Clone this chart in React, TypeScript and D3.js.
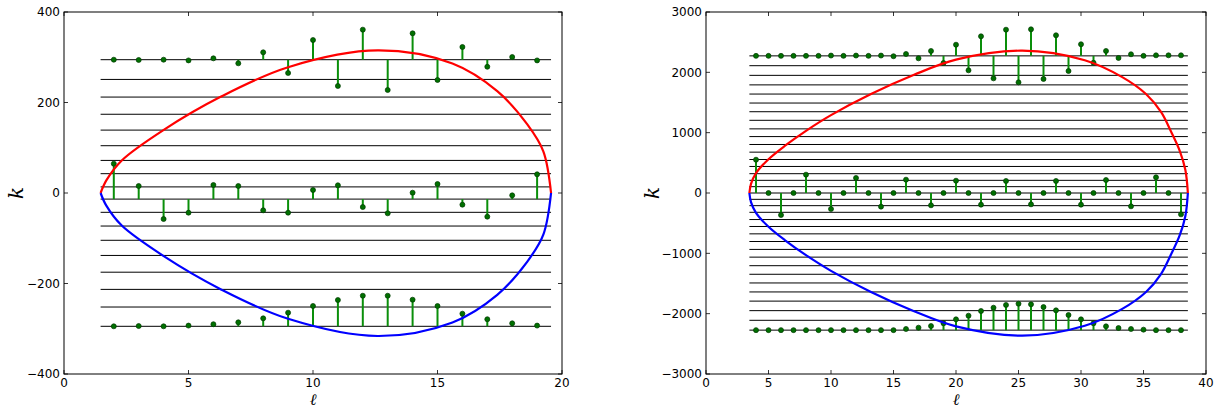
import { useEffect, useRef } from 'react';
import * as d3 from 'd3';

// ---- left panel data ----
const L_ELL = [2, 3, 4, 5, 6, 7, 8, 9, 10, 11, 12, 13, 14, 15, 16, 17, 18, 19];
const L_LEVELS = [294.6, 251, 212, 174, 139, 104.5, 72, 42.7, 13.5, -13.5, -42.7, -73, -104.5, -138, -175, -213, -252, -294.6];
const L_BASES = [294.6, -13.5, -294.6];
const L_TOP = [294.6, 294, 294.6, 293, 297.6, 286.6, 310.9, 265.2, 338, 236.5, 361, 227.6, 352.9, 249.7, 322.7, 279, 300.5, 293];
const L_MID = [64.8, 15.5, -57.5, -43.5, 17.7, 15.5, -38.3, -43.5, 6.6, 17, -31, -44.9, 0.7, 19.9, -25.8, -52.3, -5.2, 41.3];
const L_BOT = [-294.6, -294, -294.6, -293, -290, -285.8, -277, -264.5, -249.7, -236.5, -227, -227, -235.8, -249.7, -266.7, -279, -288, -293];
const L_CURVE_ELL = [1.47, 1.7, 2.32, 3.99, 6.27, 9.0, 12.6, 15.6, 17.4, 18.6, 19.25, 19.56];
const L_CURVE_UP = [0, 28, 72, 139, 212, 278, 315, 286, 225, 152, 92, 0];
const L_CURVE_DOWN = [0, -28, -72, -139, -212, -278, -316, -286, -225, -152, -92, 0];
const L_X_TICKS = [0, 5, 10, 15, 20];
const L_Y_TICKS = [-400, -200, 0, 200, 400];

// ---- right panel data ----
const R_ELL = [4, 5, 6, 7, 8, 9, 10, 11, 12, 13, 14, 15, 16, 17, 18, 19, 20, 21, 22, 23, 24, 25, 26, 27, 28, 29, 30, 31, 32, 33, 34, 35, 36, 37, 38];
const R_LEVELS = [2273, 2110, 1950, 1792, 1640, 1491, 1347, 1205, 1063, 935, 804, 677, 555, 440, 320, 210, 105, 0,
  -105, -210, -320, -440, -555, -677, -804, -935, -1063, -1205, -1347, -1491, -1640, -1792, -1950, -2110, -2273];
const R_BASES = [2273, 0, -2273];
const R_TOP = [2273, 2273, 2273, 2273, 2273, 2273, 2278, 2273, 2278, 2273, 2278, 2267, 2304, 2232, 2354, 2155, 2458, 2033,
  2597, 1900, 2707, 1834, 2713, 1890, 2614, 2022, 2465, 2160, 2354, 2238, 2299, 2273, 2282, 2282, 2282];
const R_MID = [552, 0, -365, 0, 304, 0, -265, 0, 249, 0, -226, 0, 221, 0, -204, 0, 204, 0, -193, 0, 199, 0, -188, 0,
  199, 0, -193, 0, 215, 0, -221, 0, 260, 0, -354];
const R_BOT = [-2273, -2273, -2273, -2273, -2273, -2273, -2273, -2273, -2273, -2273, -2273, -2273, -2254, -2232, -2205,
  -2160, -2094, -2033, -1956, -1901, -1856, -1835, -1845, -1890, -1945, -2022, -2094, -2160, -2210, -2238, -2254, -2265,
  -2273, -2273, -2273];
const R_CURVE_ELL = [3.47, 3.6, 4.0, 5.0, 6.3, 8.0, 10.0, 13.2, 16.6, 20.0, 25.3, 30.3, 33.3, 35.2, 36.4, 37.2, 37.9, 38.35, 38.55];
const R_CURVE_UP = [0, 150, 330, 560, 780, 1030, 1290, 1640, 1955, 2210, 2359, 2200, 1920, 1640, 1343, 1020, 700, 380, 0];
const R_CURVE_DOWN = [0, -150, -330, -560, -780, -1030, -1290, -1640, -1955, -2210, -2365, -2200, -1920, -1640, -1343, -1020, -700, -380, 0];
const R_X_TICKS = [0, 5, 10, 15, 20, 25, 30, 35, 40];
const R_Y_TICKS = [-3000, -2000, -1000, 0, 1000, 2000, 3000];

const W = 1218, H = 409;
const TOP = 12, BOTTOM = 374;

const fmt = (v: number) => (v < 0 ? '\u2212' + Math.abs(v) : String(v));

type Panel = {
  x0: number; x1: number; yLabelX: number;
  xDomain: [number, number]; yDomain: [number, number];
  xTicks: number[]; yTicks: number[];
  levels: number[]; ell: number[]; bases: number[]; rows: number[][];
  curveEll: number[]; curveUp: number[]; curveDown: number[];
};

const PANELS: Panel[] = [
  {
    x0: 64, x1: 562, yLabelX: 16,
    xDomain: [0, 20], yDomain: [-400, 400], xTicks: L_X_TICKS, yTicks: L_Y_TICKS,
    levels: L_LEVELS, ell: L_ELL, bases: L_BASES, rows: [L_TOP, L_MID, L_BOT],
    curveEll: L_CURVE_ELL, curveUp: L_CURVE_UP, curveDown: L_CURVE_DOWN,
  },
  {
    x0: 706, x1: 1206, yLabelX: 652,
    xDomain: [0, 40], yDomain: [-3000, 3000], xTicks: R_X_TICKS, yTicks: R_Y_TICKS,
    levels: R_LEVELS, ell: R_ELL, bases: R_BASES, rows: [R_TOP, R_MID, R_BOT],
    curveEll: R_CURVE_ELL, curveUp: R_CURVE_UP, curveDown: R_CURVE_DOWN,
  },
];

function drawPanel(svg: d3.Selection<SVGSVGElement, unknown, null, undefined>, p: Panel) {
  const x = d3.scaleLinear().domain(p.xDomain).range([p.x0, p.x1]);
  const y = d3.scaleLinear().domain(p.yDomain).range([BOTTOM, TOP]);
  const g = svg.append('g');

  // horizontal level lines span the boundary curve
  const lx0 = d3.min(p.curveEll) as number;
  const lx1 = d3.max(p.curveEll) as number;
  g.selectAll(null).data(p.levels).enter().append('line')
    .attr('x1', x(lx0)).attr('x2', x(lx1))
    .attr('y1', d => y(d)).attr('y2', d => y(d))
    .attr('stroke', '#000').attr('stroke-width', 1);

  // stems
  p.rows.forEach((vals, i) => {
    const base = p.bases[i];
    g.selectAll(null).data(vals).enter().append('line')
      .attr('x1', (_, j) => x(p.ell[j])).attr('x2', (_, j) => x(p.ell[j]))
      .attr('y1', y(base)).attr('y2', d => y(d))
      .attr('stroke', '#0a8f0a').attr('stroke-width', 2);
  });
  p.rows.forEach(vals => {
    g.selectAll(null).data(vals).enter().append('circle')
      .attr('cx', (_, j) => x(p.ell[j])).attr('cy', d => y(d))
      .attr('r', 2.5)
      .attr('fill', '#007000').attr('stroke', '#003a00').attr('stroke-width', 0.7);
  });

  // boundary curve
  const line = d3.line<number>()
    .x((_, j) => x(p.curveEll[j]))
    .y(d => y(d))
    .curve(d3.curveCatmullRom.alpha(0.5));
  g.append('path').attr('d', line(p.curveUp))
    .attr('fill', 'none').attr('stroke', '#ff0000').attr('stroke-width', 2.2);
  g.append('path').attr('d', line(p.curveDown))
    .attr('fill', 'none').attr('stroke', '#0000ff').attr('stroke-width', 2.2);

  // frame
  g.append('rect')
    .attr('x', p.x0).attr('y', TOP).attr('width', p.x1 - p.x0).attr('height', BOTTOM - TOP)
    .attr('fill', 'none').attr('stroke', '#000').attr('stroke-width', 1);

  // ticks inside on all sides
  const tk = 4;
  p.xTicks.forEach(t => {
    g.append('line').attr('x1', x(t)).attr('x2', x(t)).attr('y1', BOTTOM).attr('y2', BOTTOM - tk)
      .attr('stroke', '#000').attr('stroke-width', 0.8);
    g.append('line').attr('x1', x(t)).attr('x2', x(t)).attr('y1', TOP).attr('y2', TOP + tk)
      .attr('stroke', '#000').attr('stroke-width', 0.8);
    g.append('text').attr('x', x(t)).attr('y', BOTTOM + 13)
      .attr('text-anchor', 'middle').style('font-family', 'DejaVu Sans').style('font-size', '12px')
      .text(fmt(t));
  });
  p.yTicks.forEach(t => {
    g.append('line').attr('x1', p.x0).attr('x2', p.x0 + tk).attr('y1', y(t)).attr('y2', y(t))
      .attr('stroke', '#000').attr('stroke-width', 0.8);
    g.append('line').attr('x1', p.x1).attr('x2', p.x1 - tk).attr('y1', y(t)).attr('y2', y(t))
      .attr('stroke', '#000').attr('stroke-width', 0.8);
    g.append('text').attr('x', p.x0 - 4).attr('y', y(t) + 4.3)
      .attr('text-anchor', 'end').style('font-family', 'DejaVu Sans').style('font-size', '12px')
      .text(fmt(t));
  });

  // axis labels
  g.append('text').attr('x', (p.x0 + p.x1) / 2).attr('y', 404.5)
    .attr('text-anchor', 'middle').style('font-family', 'DejaVu Serif').style('font-style', 'italic')
    .style('font-size', '16px').text('\u2113');
  g.append('text').attr('transform', `translate(${p.yLabelX},${y(0)}) rotate(-90)`)
    .attr('text-anchor', 'middle').attr('dy', '0.35em')
    .style('font-family', 'DejaVu Serif').style('font-style', 'italic')
    .style('font-size', '20px').text('k');
}

export default function App() {
  const ref = useRef<SVGSVGElement>(null);
  useEffect(() => {
    if (!ref.current) return;
    const svg = d3.select(ref.current);
    svg.selectAll('*').remove();
    PANELS.forEach(p => drawPanel(svg, p));
  }, []);

  return (
    <svg ref={ref} width={W} height={H} viewBox={`0 0 ${W} ${H}`}
      style={{ position: 'absolute', left: 0, top: 0, background: '#fff', display: 'block' }} />
  );
}
